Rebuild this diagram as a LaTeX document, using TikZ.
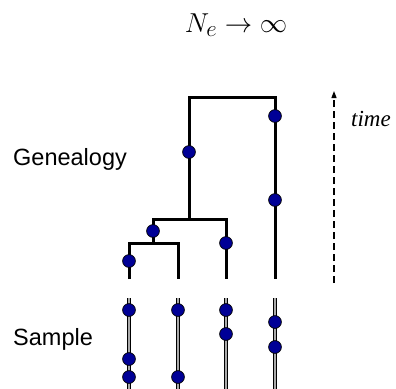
\documentclass[tikz,border=0pt]{standalone}
\usepackage{fontspec}
\setmainfont{Liberation Serif}
\newfontfamily\labelfont{Liberation Sans}
\usetikzlibrary{arrows.meta}
\definecolor{dotblue}{RGB}{0,0,150}
\definecolor{linegray}{RGB}{170,170,170}
\tikzset{
  branch/.style={line width=3pt, line join=miter},
  mut/.style={circle, draw=black, line width=0.7pt, fill=dotblue, minimum size=12.8pt, inner sep=0pt},
  lineage/.style={line width=1.1pt, draw=black, double=linegray, double distance=1.8pt},
  sidelabel/.style={font=\labelfont\fontsize{23.5}{28}\selectfont, anchor=base west, inner sep=0pt},
  timeaxis/.style={line width=1.2pt, dash pattern=on 7pt off 4pt, -{Triangle[length=7pt,width=5pt]}}
}
\begin{document}
\begin{tikzpicture}[x=1pt, y=-1pt]
  \useasboundingbox (0,0) rectangle (396,388);

  % title
  \node[anchor=base, inner sep=0pt, scale=1.1, font=\fontsize{24.88}{30}\selectfont] (title) at (236,32) {$N_e \rightarrow \infty$};

  % genealogy: leaves, internal nodes, root
  \coordinate (l1) at (129,279);
  \coordinate (l2) at (178,279);
  \coordinate (l3) at (226,279);
  \coordinate (l4) at (275,279);
  \coordinate (b) at (153,243);
  \coordinate (a) at (189,219);
  \coordinate (root) at (232,97);

  \draw[branch] (l1) |- (b) -| (l2);
  \draw[branch] (b) |- (a) -| (l3);
  \draw[branch] (a) |- (root) -| (l4);

  % mutations on the branches
  \node[mut] (m1) at (129,261) {};
  \node[mut] (m2) at (153,231) {};
  \node[mut] (m3) at (226,243) {};
  \node[mut] (m4) at (189,152) {};
  \node[mut] (m5) at (275,116) {};
  \node[mut] (m6) at (275,200) {};

  % sampled lineages
  \coordinate (s1t) at (129,298); \coordinate (s1b) at (129,392);
  \coordinate (s2t) at (178,298); \coordinate (s2b) at (178,392);
  \coordinate (s3t) at (226,298); \coordinate (s3b) at (226,392);
  \coordinate (s4t) at (275,298); \coordinate (s4b) at (275,392);
  \draw[lineage] (s1t) -- (s1b);
  \draw[lineage] (s2t) -- (s2b);
  \draw[lineage] (s3t) -- (s3b);
  \draw[lineage] (s4t) -- (s4b);

  \node[mut] (p1) at (129,310) {};
  \node[mut] (p2) at (129,359) {};
  \node[mut] (p3) at (129,377) {};
  \node[mut] (p4) at (178,310) {};
  \node[mut] (p5) at (178,377) {};
  \node[mut] (p6) at (226,310) {};
  \node[mut] (p7) at (226,334) {};
  \node[mut] (p8) at (275,322) {};
  \node[mut] (p9) at (275,347) {};

  % labels
  \node[sidelabel] (gen) at (13,165) {Genealogy};
  \node[sidelabel] (samp) at (13,345) {Sample};

  % time axis
  \coordinate (tbot) at (334,283);
  \coordinate (ttop) at (334,91);
  \draw[timeaxis] (tbot) -- (ttop);
  \node[anchor=base west, inner sep=0pt, font=\itshape\fontsize{23}{28}\selectfont] (time) at (351,126) {time};
\end{tikzpicture}
\end{document}
